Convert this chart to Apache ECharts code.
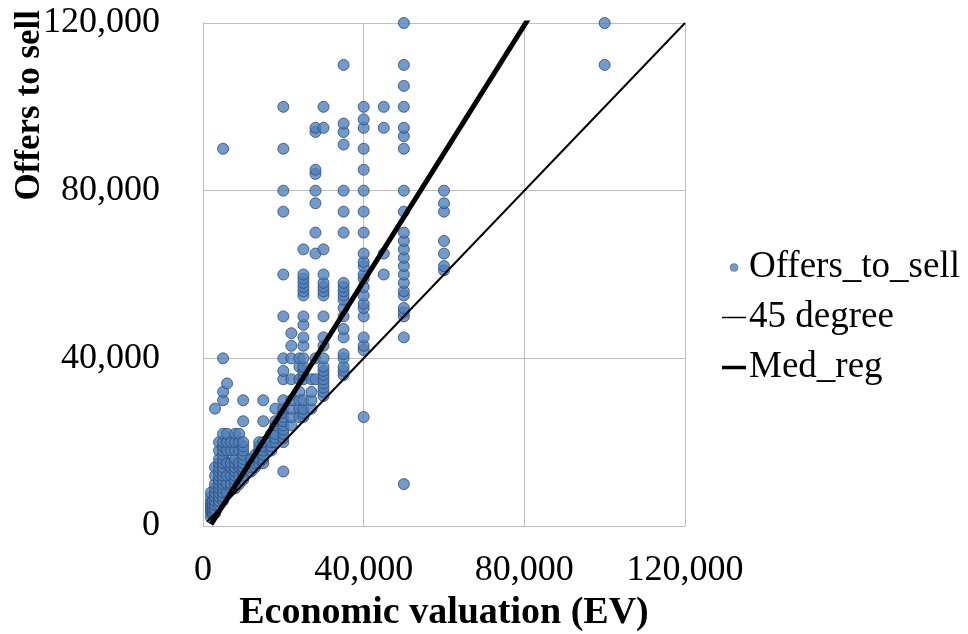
<!DOCTYPE html>
<html>
<head>
<meta charset="utf-8">
<script src="https://cdn.jsdelivr.net/npm/echarts@6/dist/echarts.min.js"></script>
<style>html,body{margin:0;padding:0;background:#fff;}#c{width:968px;height:634px;}</style>
</head>
<body>
<div id="c"></div>
<script>
// Economic valuation levels (x) and observed offers to sell (y) at each level
const evLevels = [2000, 2500, 3000, 4000, 5000, 6000, 7000, 8000, 9000, 10000, 12000, 13000, 14000, 15000, 17000, 18000, 20000, 22000, 24000, 25000, 27000, 28000, 30000, 35000, 40000, 45000, 50000, 60000, 100000];
const offersByLevel = [
  [2000, 3000, 3500, 4000, 4500, 5000, 5500, 6000, 7000, 8000],
  [3000, 4000, 5000, 6000],
  [3000, 4000, 5000, 6000, 7000, 8000, 9000, 10000, 12000, 14000, 28000],
  [5000, 6000, 7000, 8000, 9000, 10000, 11000, 12000, 13000, 14000, 15000, 16000, 18000, 20000],
  [6000, 7000, 8000, 9000, 10000, 11000, 12000, 13000, 14000, 15000, 16000, 17000, 18000, 19000, 20000, 22000, 30000, 32000, 40000, 90000],
  [8000, 10000, 12000, 15000, 18000, 20000, 22000, 34000],
  [9000, 10000, 12000, 14000, 15000, 18000, 20000],
  [9000, 10000, 11000, 12000, 13000, 14000, 15000, 16000, 18000, 20000, 22000],
  [10000, 12000, 14000, 15000, 18000, 20000, 22000],
  [11000, 12000, 13000, 14000, 15000, 16000, 17000, 18000, 19000, 20000, 25000, 30000],
  [13000, 14000, 15000, 16000],
  [14000, 15000, 17000],
  [15000, 16000, 18000, 19000, 20000],
  [15000, 16000, 17000, 18000, 19000, 20000, 25000, 30000],
  [18000, 19000, 20000, 22000],
  [20000, 21000, 22000, 24000, 25000, 28000],
  [13000, 20000, 21000, 22000, 23000, 24000, 25000, 26000, 27000, 28000, 30000, 35000, 37000, 40000, 50000, 60000, 75000, 80000, 90000, 100000],
  [24000, 26000, 28000, 30000, 35000, 40000, 43000, 46000],
  [26000, 28000, 30000, 32000, 35000, 38000, 40000],
  [26000, 27000, 28000, 30000, 35000, 36000, 37000, 38000, 40000, 43000, 45000, 48000, 50000, 55000, 56000, 57000, 58000, 59000, 60000, 66000],
  [28000, 30000, 32000, 35000],
  [35000, 40000, 65000, 70000, 77000, 80000, 84000, 85000, 94000, 95000],
  [31000, 32000, 33000, 34000, 35000, 36000, 37000, 38000, 40000, 43000, 45000, 50000, 55000, 56000, 57000, 58000, 60000, 66000, 95000, 100000],
  [36000, 37000, 38000, 40000, 41000, 45000, 47000, 50000, 52000, 54000, 55000, 56000, 57000, 58000, 70000, 75000, 80000, 91000, 94000, 96000, 110000],
  [26000, 42000, 43000, 45000, 50000, 52000, 53000, 55000, 57000, 59000, 60000, 62000, 63000, 65000, 70000, 75000, 80000, 85000, 90000, 95000, 97000, 100000],
  [60000, 65000, 95000, 100000],
  [10000, 45000, 50000, 51000, 52000, 55000, 56000, 58000, 60000, 62000, 64000, 66000, 68000, 70000, 75000, 80000, 90000, 93000, 95000, 100000, 105000, 110000, 120000],
  [61000, 62000, 65000, 68000, 75000, 77000, 80000],
  [110000, 120000]
];
// Reference lines (endpoints in data units)
const degree45 = [[1000, 1000], [120000, 120000]];
const medReg = [[2000, 400], [100000, 150000]];
const axisTicks = [0, 40000, 80000, 120000];

const scatterData = [];
evLevels.forEach((x, i) => offersByLevel[i].forEach(y => scatterData.push([x, y])));

const fmt = v => String(v).replace(/\B(?=(\d{3})+(?!\d))/g, ',');
const serif = '"Liberation Serif", "Times New Roman", serif';
const gridColor = '#bfbfbf';

const axisCommon = {
  type: 'value', min: axisTicks[0], max: axisTicks[axisTicks.length - 1], interval: 40000,
  axisLine: { show: true, lineStyle: { color: gridColor, width: 1 } },
  axisTick: { show: false },
  splitLine: { show: true, lineStyle: { color: gridColor, width: 1 } },
  axisLabel: { formatter: fmt, color: '#000', fontFamily: serif, fontSize: 36 }
};

const chart = echarts.init(document.getElementById('c'));
chart.setOption({
  animation: false,
  backgroundColor: '#fff',
  grid: { left: 203, right: 283, top: 23, bottom: 108, containLabel: false, outerBoundsMode: 'none' },
  xAxis: Object.assign({}, axisCommon, {
    axisLabel: Object.assign({}, axisCommon.axisLabel, { margin: 27 }),
    name: 'Economic valuation (EV)', nameLocation: 'middle', nameGap: 58,
    nameTextStyle: { fontFamily: serif, fontSize: 38, fontWeight: 'bold', color: '#000' }
  }),
  yAxis: Object.assign({}, axisCommon, {
    axisLabel: Object.assign({}, axisCommon.axisLabel, { margin: 43 })
  }),
  graphic: [{
    type: 'text', left: 12, top: 10,
    rotation: Math.PI / 2,
    style: { text: 'Offers to sell', fontFamily: serif, fontSize: 35, fontWeight: 'bold', fill: '#000' }
  }],
  legend: {
    orient: 'vertical', left: 717, top: 244, itemGap: 13,
    itemWidth: 24, itemHeight: 8,
    textStyle: { fontFamily: serif, fontSize: 37, color: '#000', padding: [0, 0, 0, -2] },
    data: [
      { name: 'Offers_to_sell', icon: 'circle', itemStyle: { color: '#4f81bd', borderColor: '#2c4a73', borderWidth: 0.5 } },
      { name: '45 degree', icon: 'path://M0,0h24v1.5h-24z', itemStyle: { color: '#000' } },
      { name: 'Med_reg', icon: 'path://M0,0h24v3.5h-24z', itemStyle: { color: '#000' } }
    ]
  },
  series: [
    {
      name: 'Offers_to_sell', type: 'scatter', data: scatterData,
      symbol: 'circle', symbolSize: 11,
      itemStyle: { color: '#4f81bd', borderColor: '#2c4a73', borderWidth: 1 },
      z: 2
    },
    {
      name: '45 degree', type: 'line', data: degree45, symbol: 'none',
      lineStyle: { color: '#000', width: 2 }, itemStyle: { color: '#000' }, z: 3
    },
    {
      name: 'Med_reg', type: 'line', data: medReg, symbol: 'none',
      lineStyle: { color: '#000', width: 5 }, itemStyle: { color: '#000' }, z: 4
    }
  ]
});
</script>
</body>
</html>
